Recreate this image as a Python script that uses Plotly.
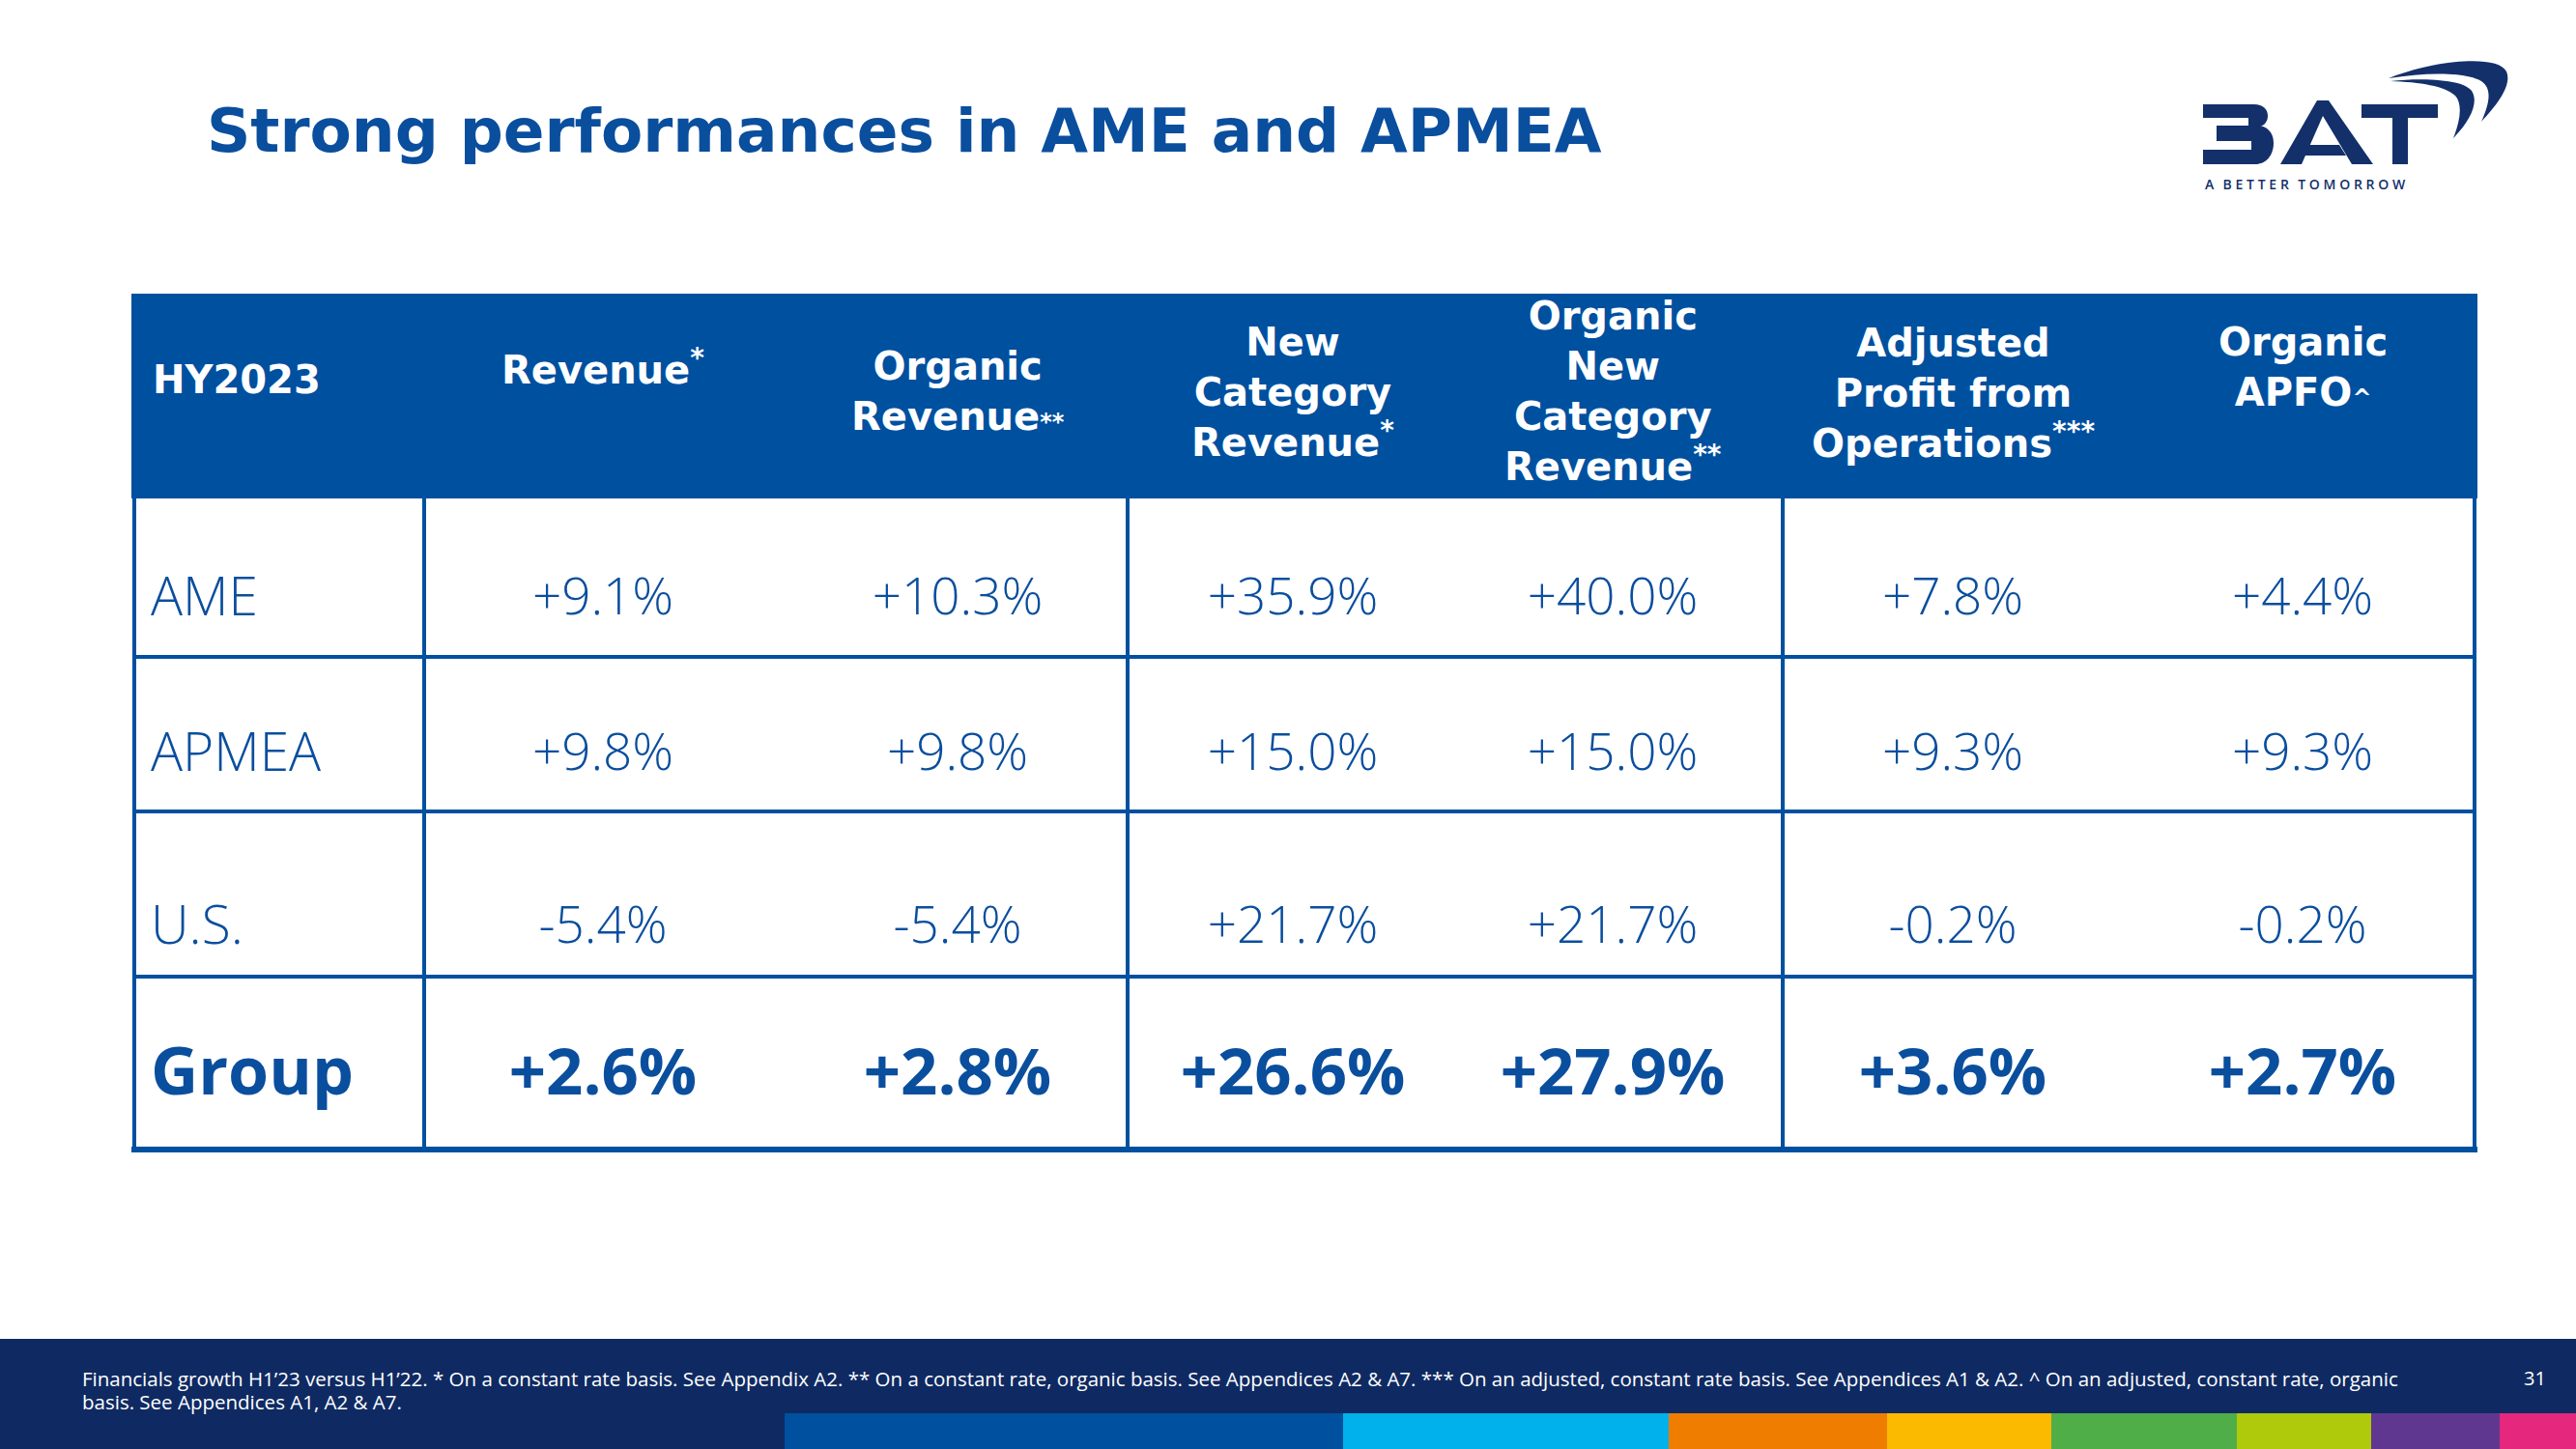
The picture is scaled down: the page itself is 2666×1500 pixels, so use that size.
import plotly.graph_objects as go

# ---------------- data ----------------
title_text = "Strong performances in AME and APMEA"
corner_label = "HY2023"
header_labels = [
    "Revenue<sup>*</sup>",
    "Organic<br>Revenue<span style='font-size:24px'>**</span>",
    "New<br>Category<br>Revenue<sup>*</sup>",
    "Organic<br>New<br>Category<br>Revenue<sup>**</sup>",
    "Adjusted<br>Profit from<br>Operations<sup>***</sup>",
    "Organic<br>APFO<span style='font-size:24px'>^</span>",
]
regions = ["AME", "APMEA", "U.S.", "Group"]
revenue = ["+9.1%", "+9.8%", "-5.4%", "+2.6%"]
organic_revenue = ["+10.3%", "+9.8%", "-5.4%", "+2.8%"]
new_category_revenue = ["+35.9%", "+15.0%", "+21.7%", "+26.6%"]
organic_new_category_revenue = ["+40.0%", "+15.0%", "+21.7%", "+27.9%"]
adjusted_profit = ["+7.8%", "+9.3%", "-0.2%", "+3.6%"]
organic_apfo = ["+4.4%", "+9.3%", "-0.2%", "+2.7%"]
footnote_lines = [
    "Financials growth H1\u201923 versus H1\u201922. * On a constant rate basis. See Appendix A2. ** On a constant rate, organic basis. "
    "See Appendices A2 & A7. *** On an adjusted, constant rate basis. See Appendices A1 & A2. ^ On an adjusted, constant rate, organic",
    "basis. See Appendices A1, A2 & A7.",
]
page_number = "31"
tagline = "A BETTER TOMORROW"

# ---------------- layout constants ----------------
W, H = 2666, 1500
BLUE = "#0050A0"
TEXT_BLUE = "#0A4E9E"
NAVY = "#13306B"
FOOT_BG = "#0F2A62"
HEAD_FONT = "DejaVu Sans"

col_x = [624, 991, 1338, 1669, 2021, 2383]
header_cy = [380, 405, 406, 405, 407, 380]
row_y = [623, 784, 963, 1116]
label_x = 156
table_left, table_right = 136, 2564
header_top, header_bottom = 304, 516
row_bounds = [516, 680, 840, 1011, 1190]
vlines_x = [139, 439, 1167, 1845, 2561]
bar_colors = ["#0050A0", "#00B1EB", "#EF7D00", "#FBBA00", "#4FAE48", "#AFCA0B", "#5F3790", "#E5287D"]
bar_edges = [812, 1390, 1727, 1953, 2123, 2315, 2454, 2587, 2666]

columns = [revenue, organic_revenue, new_category_revenue, organic_new_category_revenue,
           adjusted_profit, organic_apfo]

fig = go.Figure()

# regular rows
for r in range(3):
    fig.add_trace(go.Scatter(
        x=col_x, y=[row_y[r]] * len(col_x), mode="text",
        text=[c[r] for c in columns], textposition="middle center",
        textfont=dict(family="Open Sans", size=53, color=TEXT_BLUE, weight=300),
        hoverinfo="skip", showlegend=False, cliponaxis=False))
# group row
fig.add_trace(go.Scatter(
    x=col_x, y=[row_y[3]] * len(col_x), mode="text",
    text=[c[3] for c in columns], textposition="middle center",
    textfont=dict(family="Open Sans", size=67, color=TEXT_BLUE, weight=700),
    hoverinfo="skip", showlegend=False, cliponaxis=False))
# row labels
fig.add_trace(go.Scatter(
    x=[label_x] * 3, y=row_y[:3], mode="text", text=regions[:3], textposition="middle right",
    textfont=dict(family="Open Sans", size=55, color=TEXT_BLUE, weight=300),
    hoverinfo="skip", showlegend=False, cliponaxis=False))
fig.add_trace(go.Scatter(
    x=[label_x], y=[row_y[3]], mode="text", text=[regions[3]], textposition="middle right",
    textfont=dict(family="Open Sans", size=68, color=TEXT_BLUE, weight=700),
    hoverinfo="skip", showlegend=False, cliponaxis=False))

shapes = []
# header band
shapes.append(dict(type="rect", x0=table_left, x1=table_right, y0=header_top, y1=header_bottom,
                   fillcolor=BLUE, line=dict(width=0), layer="below"))
# grid lines
for yb in row_bounds[1:-1]:
    shapes.append(dict(type="line", x0=vlines_x[0], x1=vlines_x[-1], y0=yb, y1=yb,
                       line=dict(color=BLUE, width=4)))
shapes.append(dict(type="line", x0=table_left, x1=table_right, y0=row_bounds[-1], y1=row_bounds[-1],
                   line=dict(color=BLUE, width=6)))
for xv in vlines_x:
    shapes.append(dict(type="line", x0=xv, x1=xv, y0=header_bottom, y1=row_bounds[-1],
                       line=dict(color=BLUE, width=4)))
# footer band and colour strip
shapes.append(dict(type="rect", x0=0, x1=W, y0=1386, y1=H, fillcolor=FOOT_BG, line=dict(width=0), layer="below"))
for i, c in enumerate(bar_colors):
    shapes.append(dict(type="rect", x0=bar_edges[i], x1=bar_edges[i + 1], y0=1463, y1=H,
                       fillcolor=c, line=dict(width=0)))

# logo (decorative)
logo_paths = [
    "M2280,108 L2330,108 L2330,122 L2280,122 Z",
    "M2294,130 L2334,130 L2334,146 L2294,146 Z",
    "M2280,155 L2334,155 L2334,170 L2280,170 Z",
    "M2327,108 L2333,108 C2342,108 2347,113 2347,120 C2347,127 2342,132 2333,132 L2327,132 Z",
    "M2330,130 L2336,130 C2346,130 2353,137 2353,148 C2353,161 2345,170 2334,170 L2330,170 Z",
    "M2360,170 L2398,104 L2410,104 L2456,170 L2434,170 L2404,120 L2382,170 Z",
    "M2388,150 L2421,150 L2428,161 L2381,161 Z",
    "M2444,108 L2523,108 L2523,122 L2444,122 Z",
    "M2476,122 L2492,122 L2492,170 L2476,170 Z",
    "M2472,81 C2520,62 2585,56 2594,74 C2600,88 2585,108 2568,126 C2576,108 2580,92 2568,84 C2550,74 2510,75 2472,81 Z",
    "M2474,84 C2508,80 2548,82 2558,94 C2566,106 2556,126 2539,143 C2546,126 2549,108 2541,99 C2530,89 2505,85 2474,84 Z",
]
for p in logo_paths:
    shapes.append(dict(type="path", path=p, fillcolor=NAVY, line=dict(width=0)))

annotations = []
annotations.append(dict(x=212, y=135, xanchor="left", yanchor="middle", text=title_text, showarrow=False,
                        font=dict(family=HEAD_FONT, size=63, color=TEXT_BLUE, weight=700)))
annotations.append(dict(x=156, y=393, xanchor="left", yanchor="middle", text=corner_label, showarrow=False,
                        font=dict(family=HEAD_FONT, size=40, color="white", weight=700)))
for cx, lab, cy in zip(col_x, header_labels, header_cy):
    annotations.append(dict(x=cx, y=cy, xanchor="center", yanchor="middle", text=lab, showarrow=False,
                            align="center",
                            font=dict(family=HEAD_FONT, size=40, color="white", weight=700)))
for i, ln in enumerate(footnote_lines):
    annotations.append(dict(x=83, y=1427 + 24 * i, xanchor="left", yanchor="middle", text=ln, showarrow=False,
                            font=dict(family="Open Sans", size=20.5, color="white")))
annotations.append(dict(x=2623, y=1426, xanchor="center", yanchor="middle", text=page_number, showarrow=False,
                        font=dict(family="Open Sans", size=20, color="white")))
spaced = "\u2009\u200a".join(list(tagline)).replace("\u2009\u200a \u2009\u200a", "\u2002\u2009")
annotations.append(dict(x=2280, y=190, xanchor="left", yanchor="middle", text=spaced,
                        showarrow=False, font=dict(family="Open Sans", size=14, color=NAVY, weight=600)))

fig.update_layout(
    width=W, height=H, margin=dict(l=0, r=0, t=0, b=0),
    paper_bgcolor="white", plot_bgcolor="white",
    xaxis=dict(range=[0, W], visible=False, fixedrange=True),
    yaxis=dict(range=[H, 0], visible=False, fixedrange=True),
    shapes=shapes, annotations=annotations, showlegend=False,
)
fig.write_html("out.html", config={"displayModeBar": False},
               post_script="document.body.style.margin='0';document.body.style.padding='0';"
                           "document.body.style.overflow='hidden';")
